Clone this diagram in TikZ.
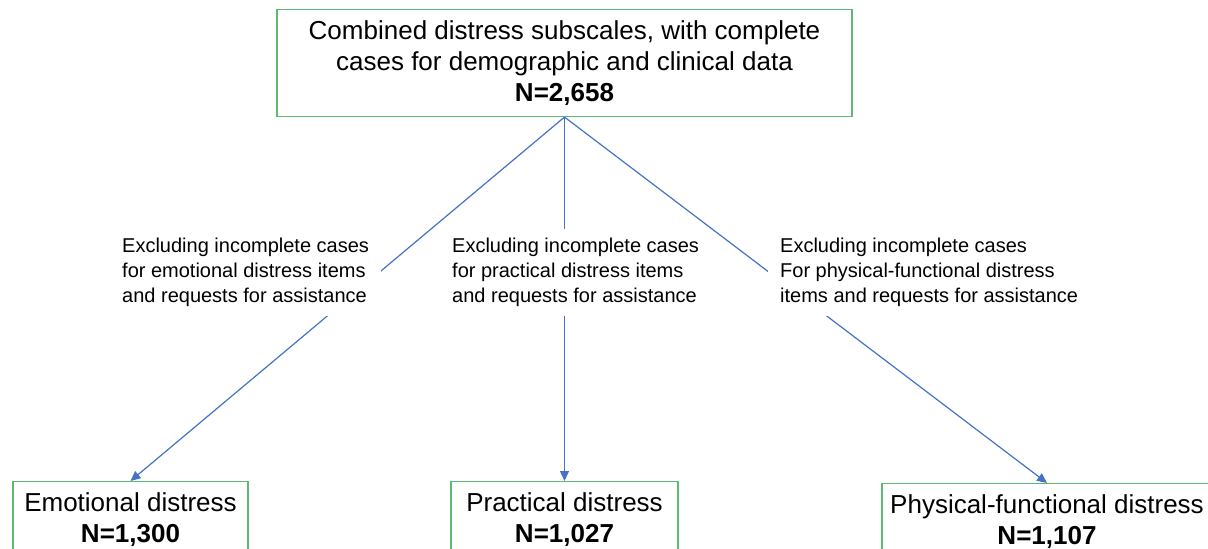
\documentclass[tikz,border=0pt]{standalone}
\usepackage{fontspec}
\setmainfont{Liberation Sans}
\usetikzlibrary{arrows.meta}
\definecolor{boxgreen}{RGB}{92,186,114}
\definecolor{linkblue}{RGB}{68,114,196}

\begin{document}
\begin{tikzpicture}[x=1pt, y=-1pt,
  box/.style={draw=boxgreen, line width=1.3pt, align=center, inner xsep=6pt, inner ysep=11pt, font=\fontsize{26}{31}\selectfont},
  note/.style={fill=white, align=left, anchor=north west, inner xsep=12pt, inner ysep=9pt, font=\fontsize{20}{25}\selectfont},
  link/.style={draw=linkblue, line width=1.2pt, -{Triangle[length=10pt,width=9pt]}}]
\useasboundingbox (0,0) rectangle (1208,549);
\clip (0,0) rectangle (1208,549);
% Boxes
\node[box, minimum width=575pt, minimum height=106pt] (combined) at (564.5,63) {Combined distress subscales, with complete\\cases for demographic and clinical data\\\textbf{N=2,658}};
\node[box, anchor=north, minimum width=235pt] (emotional) at (130.5,481) {Emotional distress\\\textbf{N=1,300}};
\node[box, anchor=north, minimum width=227pt] (practical) at (564.5,481) {Practical distress\\\textbf{N=1,027}};
\node[box, anchor=north, minimum width=330pt] (physical) at (1047,483) {Physical-functional distress\\\textbf{N=1,107}};
% Connections
\draw[link] (combined.south) -- (emotional.north);
\draw[link] (combined.south) -- (practical.north);
\draw[link] (combined.south) -- (physical.north);
% Exclusion notes (white fill breaks the lines)
\node[note] (noteE) at (110,229) {Excluding incomplete cases\\for emotional distress items\\and requests for assistance};
\node[note] (noteP) at (440,229) {Excluding incomplete cases\\for practical distress items\\and requests for assistance};
\node[note] (noteF) at (768,229) {Excluding incomplete cases\\For physical-functional distress\\items and requests for assistance};
\end{tikzpicture}
\end{document}
